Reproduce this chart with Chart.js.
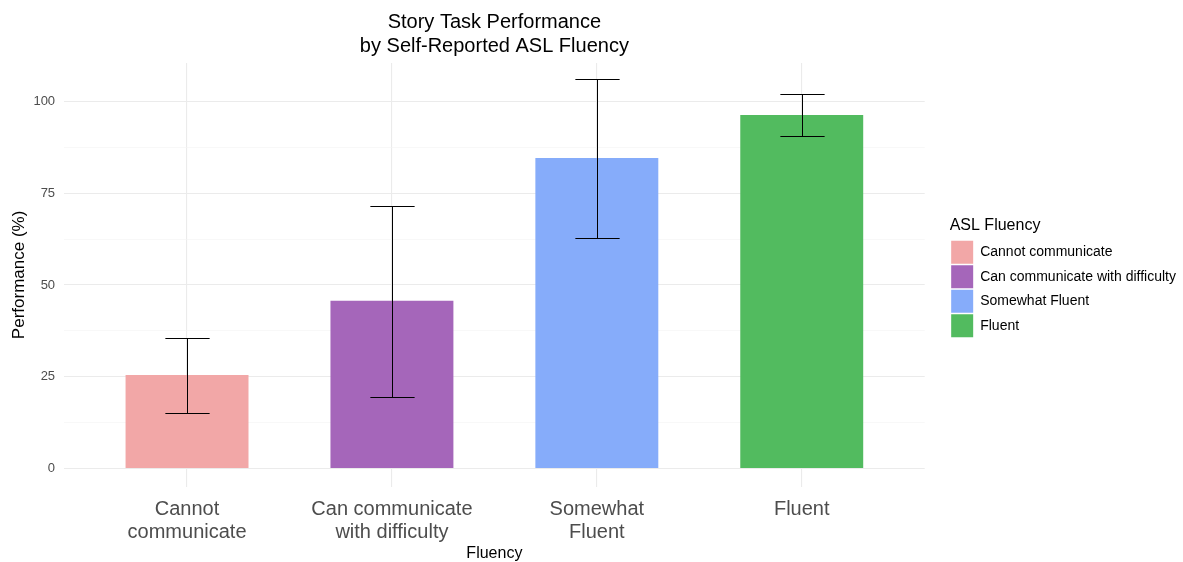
<!DOCTYPE html>
<html>
<head>
<meta charset="utf-8">
<script src="https://cdn.jsdelivr.net/npm/chart.js@4.4.1/dist/chart.umd.min.js"></script>
<style>
  html, body { margin: 0; padding: 0; background: #fff; }
</style>
</head>
<body>
<canvas id="chart" width="1183" height="562"></canvas>
<script>
const categories = ["Cannot communicate", "Can communicate with difficulty", "Somewhat Fluent", "Fluent"];
const tickLabels = [["Cannot", "communicate"], ["Can communicate", "with difficulty"], ["Somewhat", "Fluent"], "Fluent"];
const performance = [25.5, 45.7, 84.6, 96.3];
const errLow = [15.1, 19.5, 62.8, 90.6];
const errHigh = [35.6, 71.5, 106.1, 102.0];
const yTicks = [0, 12.5, 25, 37.5, 50, 62.5, 75, 87.5, 100];
const barColors = ["#F2A7A7", "#A566BA", "#86ACFA", "#52BB5F"];

const legendGap = 25;
const legendLift = 4;

Chart.defaults.font.family = "'Liberation Sans', Arial, sans-serif";

// error bars drawn on top of the bars, positioned through the scales
const errorBars = {
    id: "errorBars",
    afterDatasetsDraw(chart) {
        const { ctx, scales: { x, y } } = chart;
        const half = x.getPixelForValue(0.108) - x.getPixelForValue(0);
        ctx.save();
        ctx.strokeStyle = "#000";
        ctx.lineWidth = 1;
        performance.forEach((v, i) => {
            const cx = Math.round(x.getPixelForValue(i)) + 0.5;
            const top = Math.round(y.getPixelForValue(errHigh[i])) + 0.5;
            const bot = Math.round(y.getPixelForValue(errLow[i])) + 0.5;
            ctx.beginPath();
            ctx.moveTo(cx, top);
            ctx.lineTo(cx, bot);
            ctx.moveTo(cx - half, top);
            ctx.lineTo(cx + half, top);
            ctx.moveTo(cx - half, bot);
            ctx.lineTo(cx + half, bot);
            ctx.stroke();
        });
        ctx.restore();
    },
};

// leave some room between the panel and the legend
const legendShift = {
    id: "legendShift",
    afterInit(chart) {
        const fit = chart.legend.fit;
        chart.legend.fit = function () {
            fit.call(this);
            this.width += legendGap;
        };
    },
    afterLayout(chart) {
        chart.legend.left += legendGap;
        chart.legend.right += legendGap;
        chart.legend.top -= legendLift;
        chart.legend.bottom -= legendLift;
    },
};

const ctx = document.getElementById("chart").getContext("2d");
const myChart = new Chart(ctx, {
    type: "bar",
    data: {
        datasets: [
            {
                data: performance.map((v, i) => ({ x: i, y: v })),
                backgroundColor: barColors,
                borderWidth: 0,
                barPercentage: 0.6,
                categoryPercentage: 1,
            },
        ],
    },
    options: {
        responsive: false,
        animation: false,
        devicePixelRatio: 1,
        layout: { padding: { left: 9, right: -3, top: 0, bottom: -2 } },
        plugins: {
            title: {
                display: true,
                text: ["Story Task Performance", "by Self-Reported ASL Fluency"],
                color: "#000",
                fullSize: false,
                font: { size: 20, weight: "normal", lineHeight: 1.2 },
                padding: { top: 10, bottom: 5 },
            },
            legend: {
                position: "right",
                align: "center",
                title: {
                    display: true,
                    text: "ASL Fluency",
                    position: "start",
                    color: "#000",
                    font: { size: 16 },
                    padding: { top: 0, bottom: 3 },
                },
                labels: {
                    boxWidth: 22,
                    boxHeight: 23,
                    padding: 1.5,
                    color: "#1a1a1a",
                    font: { size: 14 },
                    generateLabels: () =>
                        categories.map((c, i) => ({
                            text: c,
                            fillStyle: barColors[i],
                            strokeStyle: barColors[i],
                            lineWidth: 0,
                            hidden: false,
                            index: i,
                            datasetIndex: 0,
                        })),
                },
            },
            tooltip: { enabled: false },
        },
        scales: {
            x: {
                type: "linear",
                min: -0.6,
                max: 3.6,
                offset: false,
                afterBuildTicks: (axis) => {
                    axis.ticks = categories.map((c, i) => ({ value: i }));
                },
                ticks: {
                    callback: (v) => tickLabels[v],
                    color: "#4d4d4d",
                    font: { size: 20, lineHeight: 1.15 },
                    padding: 11,
                    autoSkip: false,
                    maxRotation: 0,
                },
                grid: { color: "#ebebeb", lineWidth: 1.1, drawTicks: false, offset: false },
                border: { display: false },
                title: {
                    display: true,
                    text: "Fluency",
                    color: "#000",
                    font: { size: 16 },
                    padding: { top: -11, bottom: 1 },
                },
            },
            y: {
                min: -5,
                max: 110.5,
                afterBuildTicks: (axis) => {
                    axis.ticks = yTicks.map((v) => ({ value: v }));
                },
                ticks: {
                    callback: (v) => (v % 25 === 0 ? v : ""),
                    color: "#4d4d4d",
                    font: { size: 13 },
                    padding: 9,
                },
                grid: {
                    color: (c) => (c.tick && c.tick.value % 25 === 0 ? "#ebebeb" : "#f4f4f4"),
                    lineWidth: (c) => (c.tick && c.tick.value % 25 === 0 ? 1.1 : 0.6),
                    drawTicks: false,
                },
                border: { display: false },
                title: {
                    display: true,
                    text: "Performance (%)",
                    color: "#000",
                    font: { size: 17 },
                    padding: { top: 0, bottom: -5 },
                },
            },
        },
    },
    plugins: [errorBars, legendShift],
});
</script>
</body>
</html>
